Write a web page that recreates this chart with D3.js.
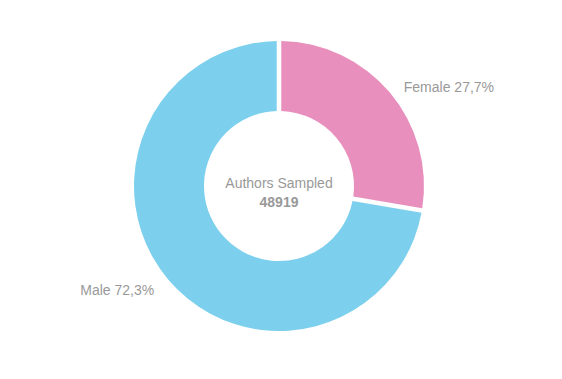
<!DOCTYPE html>
<html>
<head>
<meta charset="utf-8">
<script src="https://cdn.jsdelivr.net/npm/d3@7"></script>
<style>
  body { margin: 0; background: #fff; }
  text { font-family: "Liberation Sans", Arial, sans-serif; fill: #999; }
</style>
</head>
<body>
<div id="chart"></div>
<script>
var categories = ["Female", "Male"];
var shares = [27.7, 72.3];
var colors = ["#e88fbe", "#7dd0ed"];
var centerTitle = "Authors Sampled";
var centerValue = "48919";

var width = 562, height = 379;
var cx = 279, cy = 186;
var outerR = 145, innerR = 75, labelR = 158;

var svg = d3.select("#chart").append("svg")
    .attr("width", width)
    .attr("height", height);

var g = svg.append("g")
    .attr("transform", "translate(" + cx + "," + cy + ")");

var pie = d3.pie()
    .sort(null)
    .value(function(d){ return d; });

var arcs = pie(shares);

var arc = d3.arc()
    .innerRadius(innerR)
    .outerRadius(outerR)
    .padAngle(0.028);

g.selectAll(".slice")
    .data(arcs)
    .enter()
    .append("path")
    .attr("class", "slice")
    .attr("d", arc)
    .attr("fill", function(d, i){ return colors[i]; });

function mid(d){ return (d.startAngle + d.endAngle) / 2; }

// labels outside the ring
g.selectAll(".lbl")
    .data(arcs)
    .enter()
    .append("text")
    .attr("class", "lbl")
    .attr("x", function(d){ var a = mid(d); return labelR * Math.sin(a) + (a < Math.PI ? 4 : -4); })
    .attr("y", function(d){ return -labelR * Math.cos(mid(d)) + 7.5; })
    .attr("text-anchor", function(d){ return mid(d) < Math.PI ? "start" : "end"; })
    .attr("font-size", 14)
    .text(function(d, i){ return categories[i] + " " + String(shares[i]).replace(".", ",") + "%"; });

g.append("text")
    .attr("text-anchor", "middle")
    .attr("y", 2)
    .attr("font-size", 14)
    .text(centerTitle);

g.append("text")
    .attr("text-anchor", "middle")
    .attr("y", 21)
    .attr("font-size", 14)
    .attr("font-weight", "bold")
    .text(centerValue);
</script>
</body>
</html>
